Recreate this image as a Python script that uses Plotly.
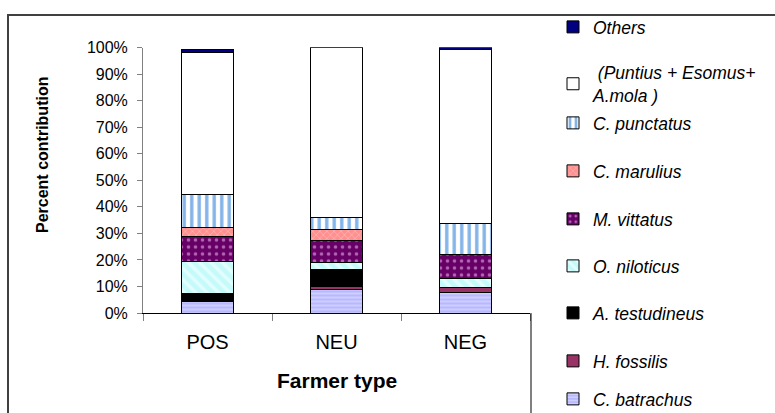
import plotly.graph_objects as go

# Farmer types on the x axis
categories = ["POS", "NEU", "NEG"]

# Percent contribution of each species group (stacked bottom -> top)
c_batrachus = [4.5, 8.9, 7.7]
h_fossilis = [0.3, 1.0, 1.9]
a_testudineus = [2.6, 6.5, 0.0]
o_niloticus = [11.9, 2.6, 3.5]
m_vittatus = [9.7, 8.2, 8.8]
c_marulius = [3.3, 4.3, 0.2]
c_punctatus = [12.4, 4.3, 11.7]
puntius_group = [53.6, 64.3, 65.3]
others = [1.0, 0.0, 1.0]

y_ticks = [0, 10, 20, 30, 40, 50, 60, 70, 80, 90, 100]
y_tick_text = [f"{v}%" for v in y_ticks]

FONT = "Arial, Liberation Sans, sans-serif"
W, H = 775, 413

series = [
    ("<i>C. batrachus</i>", c_batrachus,
     dict(color="#C4C4FF", pattern=dict(shape="-", fgcolor="#F6F6FF", bgcolor="#B8B8FF", size=4, solidity=0.35))),
    ("<i>H. fossilis</i>", h_fossilis, dict(color="#993366")),
    ("<i>A. testudineus</i>", a_testudineus, dict(color="#000000")),
    ("<i>O. niloticus</i>", o_niloticus,
     dict(color="#CCFFFF", pattern=dict(shape="\\", fgcolor="#FFFFFF", bgcolor="#C4FAFA", size=8, solidity=0.45))),
    ("<i>M. vittatus</i>", m_vittatus,
     dict(color="#660066", pattern=dict(shape=".", fgcolor="#FFCCFF", bgcolor="#660066", size=7, solidity=0.2))),
    ("<i>C. marulius</i>", c_marulius,
     dict(color="#FF9999", pattern=dict(shape="x", fgcolor="#FFD0D0", bgcolor="#FF9090", size=5, solidity=0.3))),
    ("<i>C. punctatus</i>", c_punctatus,
     dict(color="#FFFFFF", pattern=dict(shape="|", fgcolor="#0A6AD0", bgcolor="#FFFFFF", size=7.5, solidity=0.45))),
    ("<i> (Puntius + Esomus+<br>A.mola )</i>", puntius_group, dict(color="#FFFFFF")),
    ("<i>Others</i>", others, dict(color="#000080")),
]

# Vertical centre (px from top) of each legend entry, same order as the series
legend_rows_px = [399, 361, 313, 266, 219, 171, 123, 84, 27]

fig = go.Figure()
legends = {}
for i, (name, vals, marker) in enumerate(series):
    marker = dict(marker)
    marker["line"] = dict(color="#000000", width=1)
    key = "legend" if i == 0 else f"legend{i + 1}"
    fig.add_trace(go.Bar(
        x=categories, y=vals, name=name, marker=marker, legend=key,
    ))
    legends[key] = dict(
        x=553 / W, xanchor="left", y=1 - legend_rows_px[i] / H, yanchor="middle",
        font=dict(family=FONT, size=17.5, color="black"),
        bgcolor="rgba(0,0,0,0)",
    )

# Plot area placement (in paper fractions of the full figure)
x_dom = [143 / W, 530 / W]
y_dom = [(H - 313) / H, (H - 47.5) / H]

fig.update_layout(
    width=W, height=H,
    margin=dict(l=0, r=0, t=0, b=0, autoexpand=False),
    paper_bgcolor="white", plot_bgcolor="white",
    barmode="stack", bargap=0.59,
    font=dict(family=FONT, color="black"),
    showlegend=True,
    **legends,
    xaxis=dict(
        domain=x_dom, type="category",
        showline=True, linecolor="#000000", linewidth=1,
        ticks="outside", tickson="boundaries", ticklen=7, tickcolor="#808080",
        tickfont=dict(family=FONT, size=20, color="black"), showgrid=False, zeroline=False,
        ticklabelstandoff=11,
    ),
    yaxis=dict(
        domain=y_dom, range=[0, 100], tickmode="array", tickvals=y_ticks, ticktext=y_tick_text,
        showline=True, linecolor="#808080", linewidth=1,
        ticks="outside", ticklen=5, tickcolor="#808080",
        tickfont=dict(family=FONT, size=16, color="black"), showgrid=False, zeroline=False,
        ticklabelstandoff=6,
    ),
    annotations=[
        dict(text="<b>Percent contribution</b>", textangle=-90, xref="paper", yref="paper",
             x=43 / W, y=1 - 155 / H, xanchor="center", yanchor="middle", showarrow=False,
             font=dict(family=FONT, size=16, color="black")),
        dict(text="<b>Farmer type</b>", xref="paper", yref="paper",
             x=337 / W, y=1 - 380 / H, xanchor="center", yanchor="middle", showarrow=False,
             font=dict(family=FONT, size=21, color="black")),
    ],
    shapes=[
        # outer chart frame
        dict(type="rect", xref="paper", yref="paper", x0=8 / W, x1=1.02, y0=-0.05, y1=1 - 15 / H,
             line=dict(color="#404040", width=2), fillcolor="rgba(0,0,0,0)", layer="below"),
        # right edge line below the category axis
        dict(type="line", xref="paper", yref="paper", x0=531 / W, x1=531 / W, y0=0, y1=y_dom[0],
             line=dict(color="#000000", width=1)),
    ],
)

fig.write_html("out.html")
